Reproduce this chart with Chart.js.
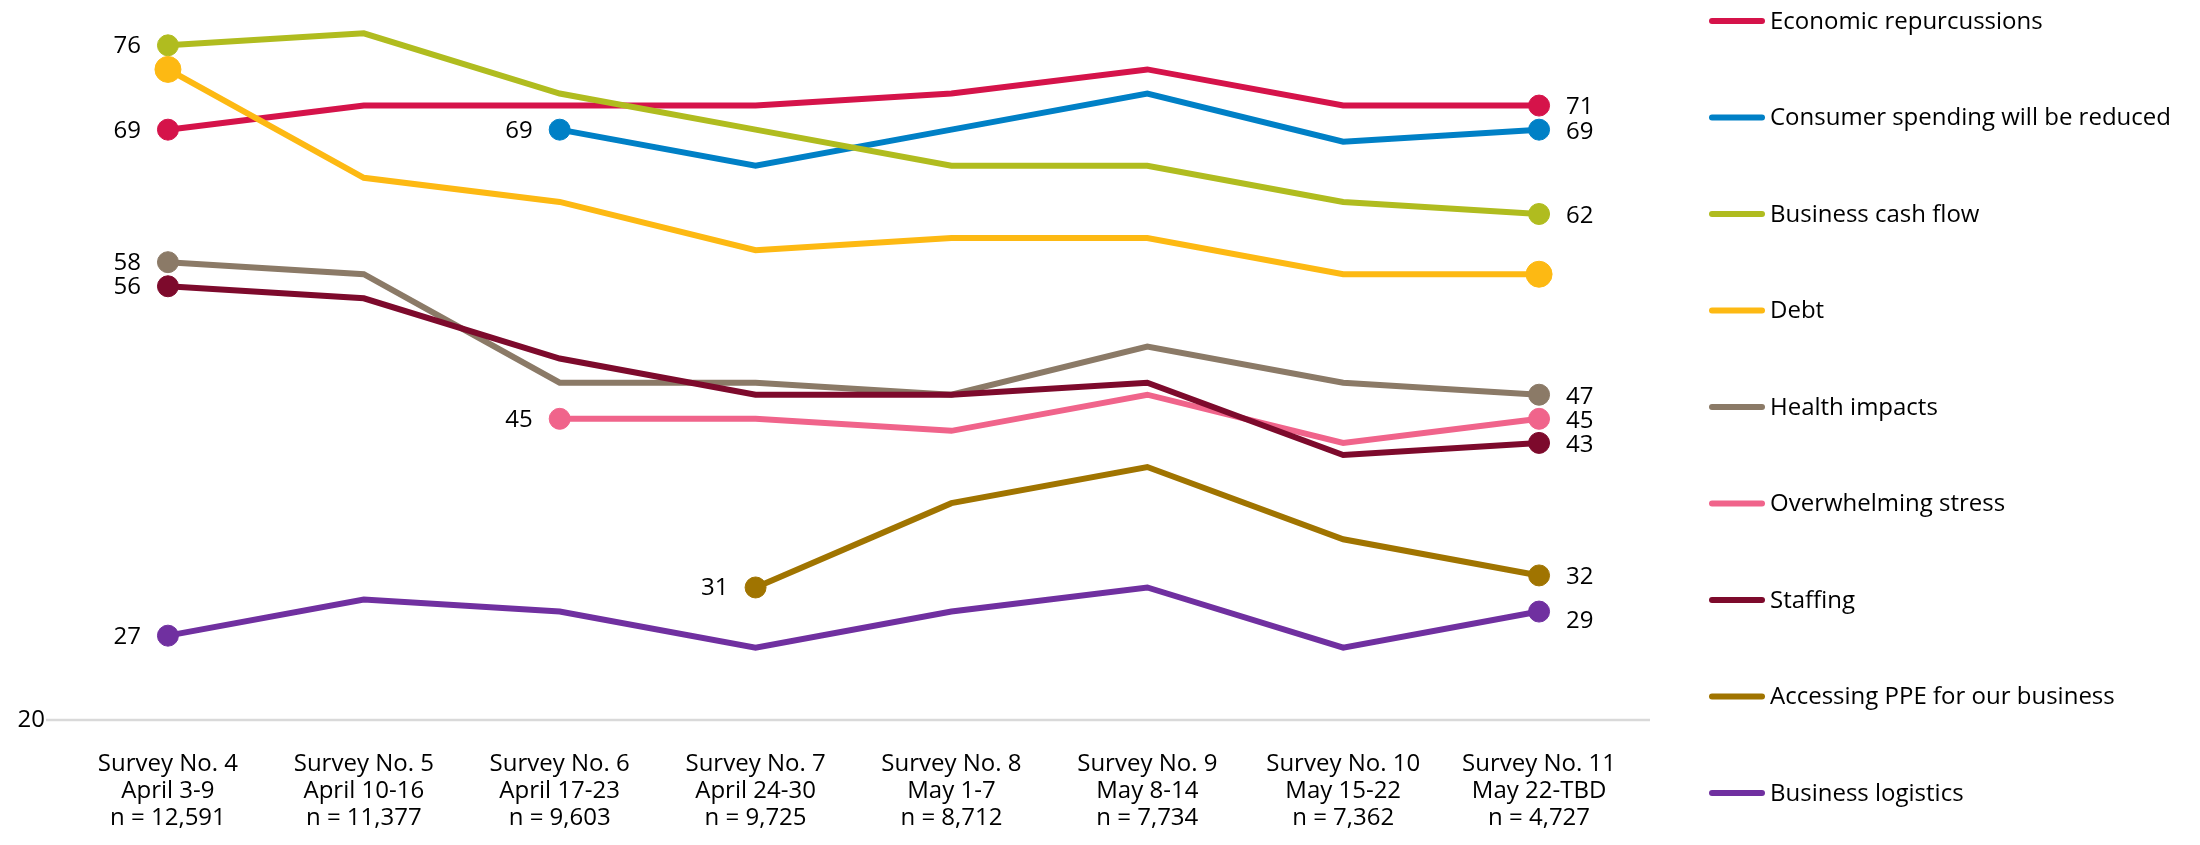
<!DOCTYPE html>
<html>
<head>
<meta charset="utf-8">
<script src="https://cdn.jsdelivr.net/npm/chart.js@4.4.1/dist/chart.umd.min.js"></script>
<style>
  html, body { margin: 0; padding: 0; background: #fff; }
  #wrap { width: 2200px; height: 845px; }
</style>
</head>
<body>
<div id="wrap"><canvas id="chart" width="2200" height="845"></canvas></div>
<script>
// x axis: three lines per survey
var surveyNames = ['Survey No. 4', 'Survey No. 5', 'Survey No. 6', 'Survey No. 7', 'Survey No. 8', 'Survey No. 9', 'Survey No. 10', 'Survey No. 11'];
var surveyDates = ['April 3-9', 'April 10-16', 'April 17-23', 'April 24-30', 'May 1-7', 'May 8-14', 'May 15-22', 'May 22-TBD'];
var sampleSizes = ['n = 12,591', 'n = 11,377', 'n = 9,603', 'n = 9,725', 'n = 8,712', 'n = 7,734', 'n = 7,362', 'n = 4,727'];

var seriesNames = ['Economic repurcussions', 'Consumer spending will be reduced', 'Business cash flow', 'Debt', 'Health impacts', 'Overwhelming stress', 'Staffing', 'Accessing PPE for our business', 'Business logistics'];
var economic  = [69, 71, 71, 71, 72, 74, 71, 71];
var consumer  = [null, null, 69, 66, 69, 72, 68, 69];
var cashFlow  = [76, 77, 72, 69, 66, 66, 63, 62];
var debt      = [74, 65, 63, 59, 60, 60, 57, 57];
var health    = [58, 57, 48, 48, 47, 51, 48, 47];
var stress    = [null, null, 45, 45, 44, 47, 43, 45];
var staffing  = [56, 55, 50, 47, 47, 48, 42, 43];
var ppe       = [null, null, null, 31, 38, 41, 35, 32];
var logistics = [27, 30, 29, 26, 29, 31, 26, 29];
var yTicks = [20];

var seriesValues = [economic, consumer, cashFlow, debt, health, stress, staffing, ppe, logistics];
var colors = ['#D5134A', '#0080C6', '#B0BC1F', '#FDB913', '#8B7A67', '#F0648B', '#7D0A2C', '#A07400', '#7030A0'];
var noLabels = ['Debt'];
var FONT = '"Open Sans", "Noto Sans", sans-serif';
var FSIZE = 24;

var labels = surveyNames.map(function (s, i) { return [s, surveyDates[i], sampleSizes[i]]; });

function firstIdx(arr) { for (var i = 0; i < arr.length; i++) if (arr[i] != null) return i; return -1; }
function lastIdx(arr) { for (var i = arr.length - 1; i >= 0; i--) if (arr[i] != null) return i; return -1; }

var datasets = seriesNames.map(function (name, k) {
    var vals = seriesValues[k];
    var big = name === 'Debt';
    return {
        label: name,
        data: vals,
        borderColor: colors[k],
        backgroundColor: colors[k],
        borderWidth: 6,
        pointBorderWidth: 1,
        pointRadius: function (ctx) {
            var i = ctx.dataIndex;
            return (i === firstIdx(vals) || i === lastIdx(vals)) ? (big ? 13 : 10.5) : 0;
        },
        pointHoverRadius: 0,
        tension: 0,
        clip: false,
        order: seriesNames.length - k
    };
});

// grey base line at 20, a bit wider than the category bands
var baseLine = {
    id: 'baseLine',
    beforeDatasetsDraw: function (chart) {
        var c = chart.ctx, a = chart.chartArea;
        var y = chart.scales.y.getPixelForValue(20);
        c.save();
        c.strokeStyle = '#D9D9D9';
        c.lineWidth = 2.5;
        c.beginPath();
        c.moveTo(a.left - 24, y);
        c.lineTo(a.right + 13, y);
        c.stroke();
        c.restore();
    }
};

// value labels at first and last point of each series
var endLabels = {
    id: 'endLabels',
    afterDatasetsDraw: function (chart) {
        var c = chart.ctx;
        c.save();
        c.font = FSIZE + 'px ' + FONT;
        c.fillStyle = '#000';
        c.textBaseline = 'middle';
        chart.data.datasets.forEach(function (ds, k) {
            if (noLabels.indexOf(ds.label) >= 0) return;
            var meta = chart.getDatasetMeta(k);
            var f = firstIdx(ds.data), l = lastIdx(ds.data);
            var p = meta.data[f];
            c.textAlign = 'right';
            c.fillText(String(ds.data[f]), p.x - 27, p.y + 1);
            p = meta.data[l];
            var nudge = ds.label === 'Business logistics' ? 10 : 2;
            c.textAlign = 'left';
            c.fillText(String(ds.data[l]), p.x + 27, p.y + nudge);
        });
        c.restore();
    }
};

// legend on the right, one item per row with large gaps
var sideLegend = {
    id: 'sideLegend',
    afterDraw: function (chart) {
        var c = chart.ctx;
        c.save();
        c.font = FSIZE + 'px ' + FONT;
        c.textBaseline = 'middle';
        c.textAlign = 'left';
        chart.data.datasets.forEach(function (ds, k) {
            var y = 21 + k * 96.5;
            c.strokeStyle = ds.borderColor;
            c.lineWidth = 6;
            c.lineCap = 'round';
            c.beginPath();
            c.moveTo(1712, y);
            c.lineTo(1762, y);
            c.stroke();
            c.fillStyle = '#000';
            c.fillText(ds.label, 1770, y + 1);
        });
        c.restore();
    }
};

var ctx = document.getElementById('chart').getContext('2d');
var chart = new Chart(ctx, {
    type: 'line',
    data: { labels: labels, datasets: datasets },
    plugins: [baseLine, endLabels, sideLegend],
    options: {
        responsive: false,
        animation: false,
        layout: { padding: { left: 0, right: 563, top: 0, bottom: 0 } },
        plugins: {
            legend: { display: false },
            tooltip: { enabled: false }
        },
        scales: {
            x: {
                offset: true,
                grid: { display: false, drawTicks: false },
                border: { display: false },
                ticks: {
                    color: '#000',
                    padding: 31,
                    maxRotation: 0,
                    font: { family: FONT, size: FSIZE, lineHeight: 1.125 }
                },
                afterFit: function (axis) { axis.height = 125; axis.paddingLeft = 0; axis.paddingRight = 0; }
            },
            y: {
                min: 20,
                max: 78.6,
                grid: { display: false, drawTicks: false },
                border: { display: false },
                ticks: {
                    stepSize: 10,
                    color: '#000',
                    padding: 25,
                    font: { family: FONT, size: FSIZE },
                    callback: function (v) { return yTicks.indexOf(v) >= 0 ? String(v) : ''; }
                },
                afterFit: function (axis) { axis.width = 70; axis.paddingTop = 0; axis.paddingBottom = 0; }
            }
        }
    }
});
</script>
</body>
</html>
